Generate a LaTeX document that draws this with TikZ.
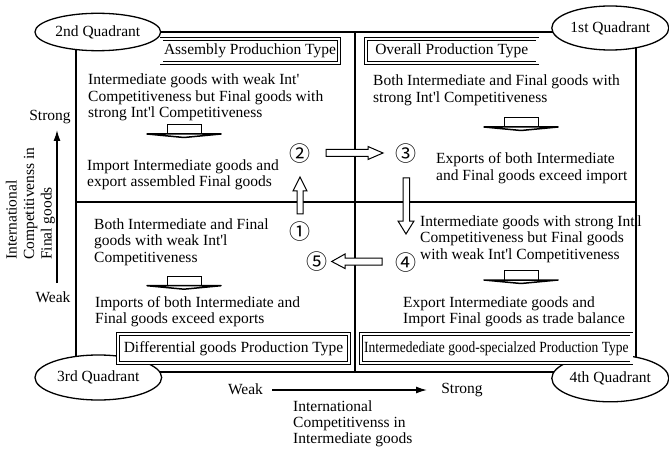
\documentclass[tikz,border=0pt]{standalone}
\usepackage{fontspec}
\setmainfont{Liberation Serif}
\newfontfamily\circfont{Noto Sans CJK JP}
\usetikzlibrary{shapes.geometric,arrows.meta}

\newcommand{\intl}{Int\textquotesingle l}

\begin{document}
\begin{tikzpicture}[x=1pt,y=-1pt,
  every node/.style={inner sep=0pt, font=\fontsize{15.5}{16.5}\selectfont},
  frameline/.style={line width=1.6pt},
  quadrant/.style={ellipse, draw, line width=1.3pt, fill=white},
  typebox/.style={draw, double, double distance=2.2pt, line width=0.8pt, fill=white},
  body/.style={anchor=base west, align=left},
  stepnum/.style={font=\circfont\fontsize{21}{21}\selectfont},
  blockarrow/.style={draw, fill=white, line width=1pt, line join=miter},
  axisarrow/.style={line width=1.4pt, -{Latex[length=11pt,width=7pt]}},
  flatdown/.pic={
    \draw[line width=1pt, fill=white] (-17,-9.5) rectangle (17,0);
    \draw[line width=1.5pt, line join=round, fill=white] (-37,0) -- (37,0) -- (0,3.5) -- cycle;
  }
]
\useasboundingbox (0,0) rectangle (669,449);

% frame and the two dividing lines
\coordinate (tl) at (76,32);
\coordinate (br) at (636,372);
\coordinate (midtop) at (355,32);
\coordinate (midbot) at (355,372);
\coordinate (midleft) at (76,202);
\coordinate (midright) at (636,202);
\draw[frameline] (tl) rectangle (br);
\draw[frameline] (midtop) -- (midbot);
\draw[frameline] (midleft) -- (midright);

% quadrant labels
\node[quadrant, minimum width=125.7pt, minimum height=37.4pt] (q2) at (97.8,32) {2nd Quadrant};
\node[quadrant, minimum width=117pt, minimum height=44pt] (q1) at (610.3,28) {1st Quadrant};
\node[quadrant, minimum width=126.7pt, minimum height=45pt] (q3) at (98.3,377.5) {3rd Quadrant};
\node[quadrant, minimum width=117pt, minimum height=47pt] (q4) at (610.3,378.3) {4th Quadrant};

% production types
\node[typebox, minimum width=177.2pt, minimum height=24.2pt] (t2) at (250,51) {Assembly Produchion Type};
\node[typebox, minimum width=171.2pt, minimum height=24.2pt] (t1) at (451.8,51) {Overall Production Type};
\node[typebox, minimum width=231.2pt, minimum height=28.7pt] (t3) at (233.5,348.7) {Differential goods Production Type};
\node[typebox, minimum width=270.2pt, minimum height=28.7pt] (t4) at (496.3,348.7) {\scalebox{0.87}[1]{Intermedediate good-specialzed Production Type}};

% 2nd quadrant (multi-line texts are placed by the baseline of their last line)
\node[body] (q2a) at (88,118) {Intermediate goods with weak Int\textquotesingle\\Competitiveness but Final goods with\\strong \intl{} Competitiveness};
\pic at (184,134) {flatdown};
\node[body] (q2b) at (87,186.5) {Import Intermediate goods and\\export assembled Final goods};

% 1st quadrant
\node[body] (q1a) at (373,102.5) {Both Intermediate and Final goods with\\strong \intl{} Competitiveness};
\pic at (521,127) {flatdown};
\node[body] (q1b) at (436,180.5) {Exports of both Intermediate\\and Final goods exceed import};

% 4th quadrant
\node[body] (q4a) at (420,259) {Intermediate goods with strong \intl\\Competitiveness but Final goods\\with weak \intl{} Competitiveness};
\pic at (521,280) {flatdown};
\node[body] (q4b) at (403,323.5) {Export Intermediate goods and\\Import Final goods as trade balance};

% 3rd quadrant
\node[body] (q3a) at (94,262) {Both Intermediate and Final\\goods with weak \intl\\Competitiveness};
\pic at (184,285.7) {flatdown};
\node[body] (q3b) at (95,323.5) {Imports of both Intermediate and\\Final goods exceed exports};

% development path
\node[stepnum] (n1) at (300,232) {①};
\node[stepnum] (n2) at (300,153.5) {②};
\node[stepnum] (n3) at (406,153.5) {③};
\node[stepnum] (n4) at (406,263) {④};
\node[stepnum] (n5) at (317,262) {⑤};
\draw[blockarrow] (297,214) -- (297,191) -- (293,191) -- (300,177) -- (307,191) -- (303,191) -- (303,214) -- cycle;
\draw[blockarrow] (326,149.5) -- (368,149.5) -- (368,146.5) -- (383,153) -- (368,159.5) -- (368,156.5) -- (326,156.5) -- cycle;
\draw[blockarrow] (403,178) -- (409.5,178) -- (409.5,221) -- (414,221) -- (406,234) -- (398,221) -- (403,221) -- cycle;
\draw[blockarrow] (382,258) -- (345,258) -- (345,254) -- (331.7,261.5) -- (345,268.5) -- (345,265) -- (382,265) -- cycle;

% vertical axis
\node[anchor=base] (vstrong) at (50,121) {Strong};
\node[anchor=base] (vweak) at (53,302) {Weak};
\coordinate (vlow) at (57,283);
\coordinate (vhigh) at (57,130);
\draw[axisarrow] (vlow) -- (vhigh);
\node[rotate=90, anchor=base west, align=left, font=\fontsize{15.5}{17.5}\selectfont] (vlabel) at (51.7,260) {International\\Competitivenss in\\Final goods};

% horizontal axis
\node[anchor=base] (hweak) at (245.5,394) {Weak};
\node[anchor=base] (hstrong) at (462,393) {Strong};
\coordinate (hlow) at (272,390);
\coordinate (hhigh) at (427,390);
\draw[axisarrow] (hlow) -- (hhigh);
\node[body, font=\fontsize{15.5}{16}\selectfont] (hlabel) at (293,443) {International\\Competitivenss in\\Intermediate goods};
\end{tikzpicture}
\end{document}
